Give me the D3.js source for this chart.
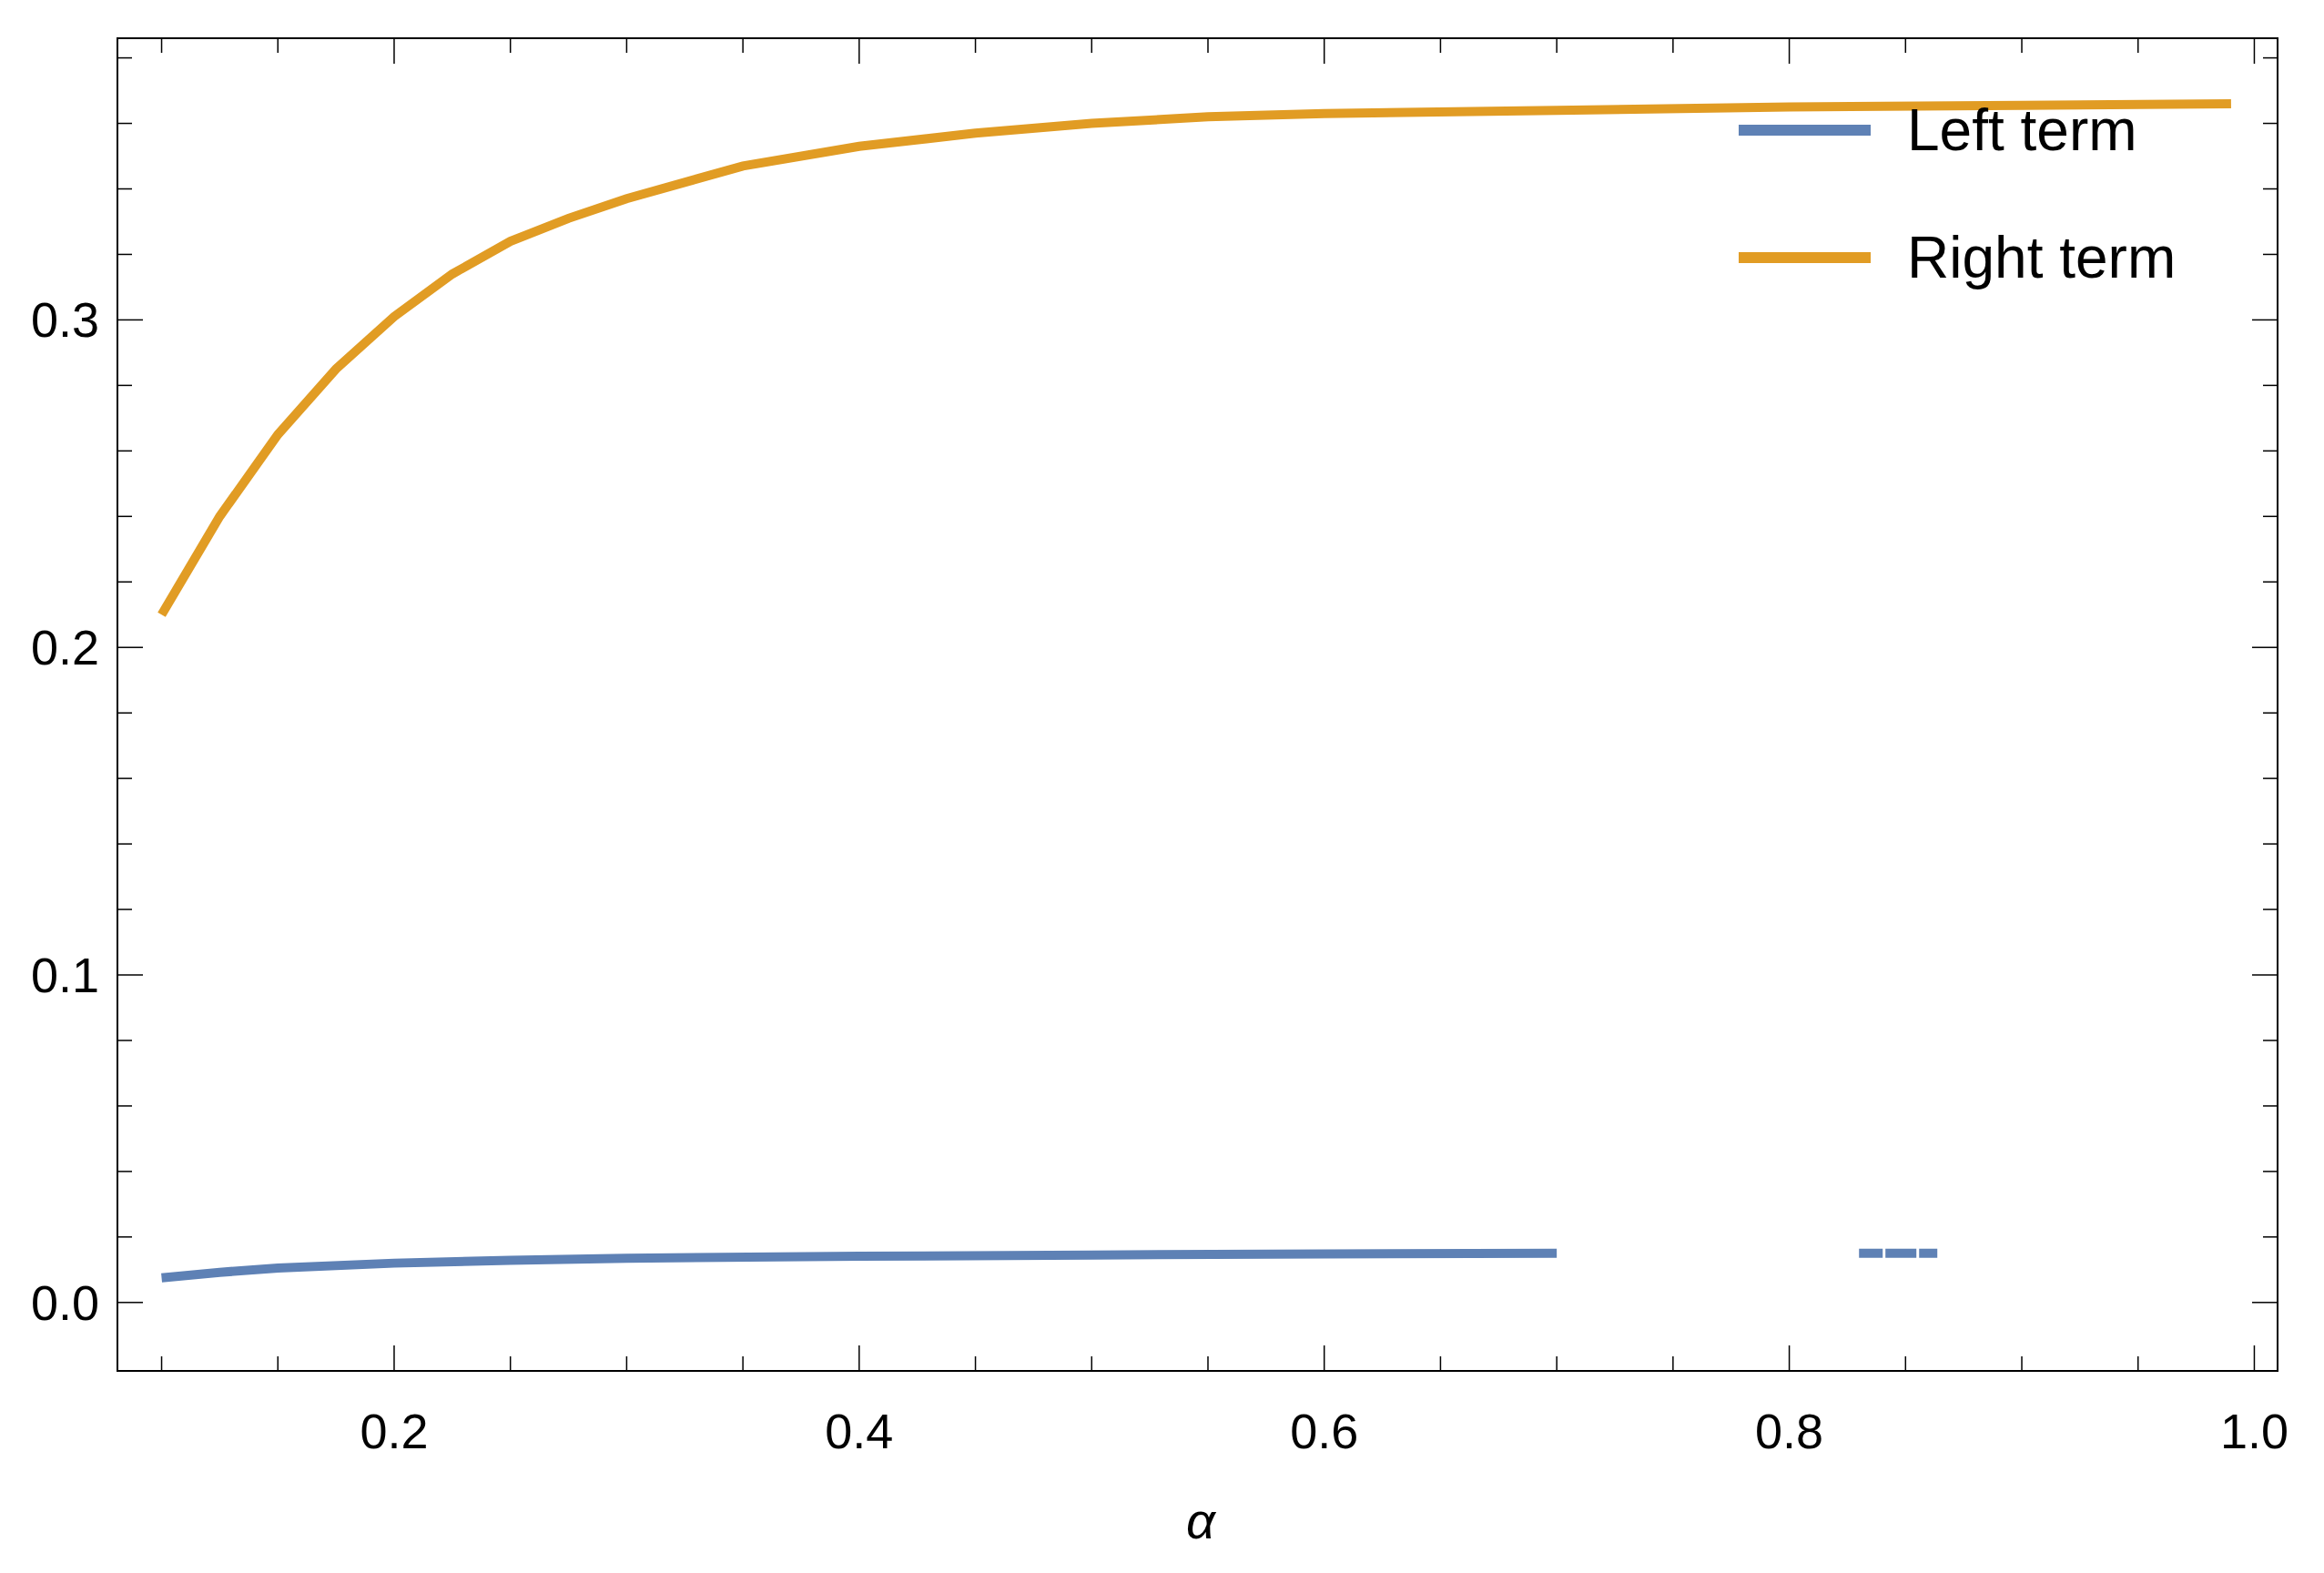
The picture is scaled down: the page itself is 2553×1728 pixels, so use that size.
<!DOCTYPE html>
<html><head><meta charset="utf-8">
<script src="https://cdn.jsdelivr.net/npm/d3@7"></script>
<style>body{margin:0;background:#fff}</style></head>
<body><svg id="c" width="2553" height="1728"></svg>
<script>
const rightX = [0.1,0.125,0.15,0.175,0.2,0.225,0.25,0.275,0.3,0.35,0.4,0.45,0.5,0.55,0.6,0.7,0.8,0.9,0.99];
const rightY = [0.210,0.240,0.265,0.285,0.301,0.314,0.324,0.331,0.337,0.347,0.353,0.357,0.360,0.362,0.363,0.364,0.365,0.3655,0.366];
const leftX = [0.1,0.125,0.15,0.2,0.25,0.3,0.4,0.5,0.6,0.7];
const leftY = [0.0075,0.0092,0.0105,0.012,0.0129,0.0135,0.0141,0.0145,0.0148,0.015];
const leftDashX = [0.83,0.865];
const leftDashY = [0.015,0.015];
const xTicks = [0.2,0.4,0.6,0.8,1.0];
const yTicks = [0.0,0.1,0.2,0.3];
const seriesNames = ["Left term","Right term"];
const colors = ["#5e81b5","#e19c24"];

const L=129,R=2502,T=42,B=1506;
const x=d3.scaleLinear().domain([0.081,1.010]).range([L,R]);
const y=d3.scaleLinear().domain([-0.0209,0.386]).range([B,T]);
const svg=d3.select("#c");
const font="Liberation Sans, Arial, sans-serif";

const xMinor=d3.range(0.1,1.001,0.05).map(v=>+v.toFixed(2));
const yMinor=d3.range(0,0.381,0.02).map(v=>+v.toFixed(2));
const isMajX=v=>xTicks.some(t=>Math.abs(t-v)<1e-6);
const isMajY=v=>yTicks.some(t=>Math.abs(t-v)<1e-6);
const g=svg.append("g").attr("stroke","#000").attr("stroke-width",1.5);
xMinor.forEach(v=>{const len=isMajX(v)?28:16;
 g.append("line").attr("x1",x(v)).attr("x2",x(v)).attr("y1",B).attr("y2",B-len);
 g.append("line").attr("x1",x(v)).attr("x2",x(v)).attr("y1",T).attr("y2",T+len);});
yMinor.forEach(v=>{const len=isMajY(v)?28:16;
 g.append("line").attr("y1",y(v)).attr("y2",y(v)).attr("x1",L).attr("x2",L+len);
 g.append("line").attr("y1",y(v)).attr("y2",y(v)).attr("x1",R).attr("x2",R-len);});
svg.append("rect").attr("x",L).attr("y",T).attr("width",R-L).attr("height",B-T)
 .attr("fill","none").attr("stroke","#000").attr("stroke-width",2);

svg.selectAll(".xl").data(xTicks).join("text").attr("x",d=>x(d)).attr("y",B+85)
 .attr("text-anchor","middle").attr("font-family",font).attr("font-size",54).text(d=>d.toFixed(1));
svg.selectAll(".yl").data(yTicks).join("text").attr("x",L-20).attr("y",d=>y(d)+19)
 .attr("text-anchor","end").attr("font-family",font).attr("font-size",54).text(d=>d.toFixed(1));
svg.append("text").attr("x",1319).attr("y",1690).attr("text-anchor","middle")
 .attr("font-family",font).attr("font-style","italic").attr("font-size",56).text("α");

const line=d3.line().x(d=>x(d[0])).y(d=>y(d[1]));
const clip=svg.append("clipPath").attr("id","cp").append("rect").attr("x",L).attr("y",T).attr("width",R-L).attr("height",B-T);
const p=svg.append("g").attr("clip-path","url(#cp)");
p.append("path").attr("d",line(leftX.map((v,i)=>[v,leftY[i]]))).attr("fill","none").attr("stroke",colors[0]).attr("stroke-width",10);
p.append("path").attr("d",line(leftDashX.map((v,i)=>[v,leftDashY[i]]))).attr("fill","none").attr("stroke",colors[0]).attr("stroke-width",10).attr("stroke-dasharray","26 3 34 3 20");
p.append("path").attr("d",line(rightX.map((v,i)=>[v,rightY[i]]))).attr("fill","none").attr("stroke",colors[1]).attr("stroke-width",10);

seriesNames.forEach((n,i)=>{const yy=143+i*140;
 svg.append("line").attr("x1",1910).attr("x2",2055).attr("y1",yy).attr("y2",yy).attr("stroke",colors[i]).attr("stroke-width",12);
 svg.append("text").attr("x",2095).attr("y",yy+22).attr("font-family",font).attr("font-size",64).text(n);});
</script></body></html>
